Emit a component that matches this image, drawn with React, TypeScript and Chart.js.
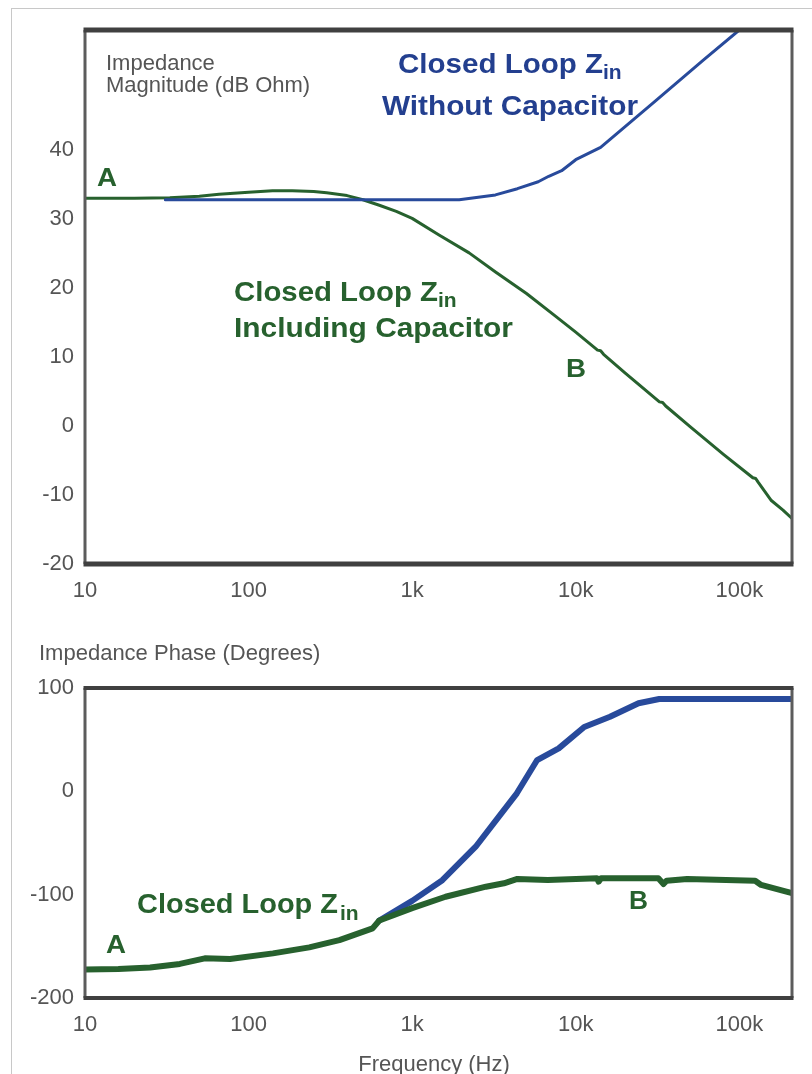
import React, { useEffect, useRef } from 'react';
import { Chart, registerables } from 'chart.js';

Chart.register(...registerables);

// ---- axis ticks ----
const freqTicks = [10, 100, 1000, 10000, 100000];
const freqTickLabels = ['10', '100', '1k', '10k', '100k'];
const magTicks = [-20, -10, 0, 10, 20, 30, 40];
const phaseTicks = [-200, -100, 0, 100];

// ---- impedance magnitude (dB Ohm) ----
const magWithCapFreq = [10, 20, 33, 50, 66, 100, 140, 185, 250, 300, 400, 500, 630, 800, 1000, 1460, 2230, 3250, 5000, 7550, 10000, 13600, 14200, 14800, 20000, 32500, 34000, 35500, 50000, 80000, 121000, 126000, 130000, 157000, 185000, 210000];
const magWithCapDb = [33.0, 33.0, 33.1, 33.3, 33.6, 33.9, 34.1, 34.1, 34.0, 33.8, 33.4, 32.8, 32.0, 31.1, 30.1, 27.7, 25.1, 22.3, 19.2, 15.9, 13.6, 11.0, 10.9, 10.4, 7.7, 3.5, 3.4, 2.9, -0.1, -4.1, -7.5, -7.6, -8.1, -10.8, -12.2, -13.4];

const magNoCapFreq = [31, 100, 1000, 1940, 3230, 4400, 5900, 6840, 8200, 10000, 14200, 30000, 60000, 100000, 210000];
const magNoCapDb = [32.8, 32.8, 32.8, 32.8, 33.5, 34.4, 35.4, 36.2, 37.0, 38.6, 40.4, 46.9, 53.0, 57.4, 63.9];

// ---- impedance phase (degrees) ----
const phaseWithCapFreq = [10, 16, 25, 38, 54, 77, 141, 235, 359, 573, 630, 1000, 1600, 2825, 3640, 4400, 6750, 13500, 13800, 14300, 32000, 34400, 36000, 48000, 125000, 136000, 194000, 210000];
const phaseWithCapDeg = [-172.3, -172.0, -170.5, -167.0, -161.6, -162.3, -156.8, -151.0, -144.0, -132.6, -125.0, -113.0, -102.0, -92.3, -89.0, -84.8, -85.8, -84.2, -87.4, -84.0, -84.2, -89.7, -86.5, -84.8, -86.5, -90.6, -97.1, -98.5];

const phaseNoCapFreq = [630, 1000, 1530, 2445, 3390, 4365, 5810, 7870, 11270, 16200, 24200, 32400, 210000];
const phaseNoCapDeg = [-125.0, -106.0, -86.0, -53.6, -24.5, -1.9, 30.3, 41.6, 62.3, 72.2, 85.2, 89.4, 89.4];

const GREEN = '#27612e';
const BLUE_LINE = '#284a9b';
const BLUE_TEXT = '#233f8f';
const GRAY = '#555555';
const FAMILY = "'Liberation Sans', Arial, sans-serif";

const toPoints = (xs: number[], ys: number[]) => xs.map((x, i) => ({ x, y: ys[i] }));

type Note = {
  text: string;
  x: number;
  y: number;
  font: string;
  color: string;
  align?: CanvasTextAlign;
  w?: number; // fitted run length of the main text
  sub?: { text: string; font: string; dy: number; gap: number };
};

// Draws free-standing text (axis captions, curve labels) onto the canvas.
function notesPlugin(id: string, notes: Note[]) {
  return {
    id,
    afterDraw(chart: any) {
      const ctx: CanvasRenderingContext2D = chart.ctx;
      ctx.save();
      ctx.textBaseline = 'alphabetic';
      for (const n of notes) {
        ctx.font = n.font;
        ctx.fillStyle = n.color;
        ctx.textAlign = n.align || 'left';
        const natural = ctx.measureText(n.text).width;
        const runW = n.w || natural;
        ctx.save();
        ctx.translate(n.x, n.y);
        ctx.scale(runW / natural, 1);
        ctx.fillText(n.text, 0, 0);
        ctx.restore();
        if (n.sub) {
          ctx.font = n.sub.font;
          ctx.textAlign = 'left';
          ctx.fillText(n.sub.text, n.x + runW + n.sub.gap, n.y + n.sub.dy);
        }
      }
      ctx.restore();
    },
  };
}

// Heavy rule on top and bottom, lighter rules on the sides of the plot area.
function framePlugin(id: string, hWidth: number) {
  return {
    id,
    afterDatasetsDraw(chart: any) {
      const { ctx, chartArea: a } = chart;
      ctx.save();
      ctx.strokeStyle = '#5c5c5c';
      ctx.lineWidth = 3;
      ctx.beginPath();
      ctx.moveTo(a.left, a.top);
      ctx.lineTo(a.left, a.bottom);
      ctx.moveTo(a.right, a.top);
      ctx.lineTo(a.right, a.bottom);
      ctx.stroke();
      ctx.strokeStyle = '#404040';
      ctx.lineWidth = hWidth;
      ctx.beginPath();
      ctx.moveTo(a.left - 1.5, a.top);
      ctx.lineTo(a.right + 1.5, a.top);
      ctx.moveTo(a.left - 1.5, a.bottom);
      ctx.lineTo(a.right + 1.5, a.bottom);
      ctx.stroke();
      ctx.restore();
    },
  };
}

const tickFont = { family: FAMILY, size: 22 };

function freqAxis(height: number) {
  return {
    type: 'logarithmic' as const,
    min: 10,
    max: 210000,
    grid: { display: false, drawTicks: false },
    border: { display: false },
    afterBuildTicks: (s: any) => {
      s.ticks = freqTicks.map((v) => ({ value: v }));
    },
    afterFit: (s: any) => {
      s.height = height;
    },
    ticks: {
      autoSkip: false,
      maxRotation: 0,
      padding: 14,
      color: GRAY,
      font: tickFont,
      callback: (v: any) => {
        const i = freqTicks.indexOf(Number(v));
        return i >= 0 ? freqTickLabels[i] : '';
      },
    },
  };
}

function valueAxis(min: number, max: number, ticks: number[]) {
  return {
    type: 'linear' as const,
    min,
    max,
    grid: { display: false, drawTicks: false },
    border: { display: false },
    afterBuildTicks: (s: any) => {
      s.ticks = ticks.map((v) => ({ value: v }));
    },
    afterFit: (s: any) => {
      s.width = 85;
    },
    ticks: { padding: 11, color: GRAY, font: tickFont },
  };
}

const boldFont = (size: number) => `bold ${size}px ${FAMILY}`;
const plainFont = `22px ${FAMILY}`;
const subFont = boldFont(21);

const magNotes: Note[] = [
  { text: 'Impedance', x: 106, y: 70, font: plainFont, color: GRAY },
  { text: 'Magnitude (dB Ohm)', x: 106, y: 92, font: plainFont, color: GRAY },
  { text: 'Closed Loop Z', x: 398, y: 73, w: 205, font: boldFont(27), color: BLUE_TEXT, sub: { text: 'in', font: subFont, dy: 6, gap: 0 } },
  { text: 'Without Capacitor', x: 382, y: 115, w: 256, font: boldFont(27), color: BLUE_TEXT },
  { text: 'Closed Loop Z', x: 234, y: 301, w: 204, font: boldFont(27), color: GREEN, sub: { text: 'in', font: subFont, dy: 6, gap: 0 } },
  { text: 'Including Capacitor', x: 234, y: 337, w: 279, font: boldFont(27), color: GREEN },
  { text: 'A', x: 97, y: 186, w: 20, font: boldFont(26), color: GREEN },
  { text: 'B', x: 566, y: 377, w: 20, font: boldFont(26), color: GREEN },
];

const phaseNotes: Note[] = [
  { text: 'Impedance Phase (Degrees)', x: 39, y: 40, font: plainFont, color: GRAY },
  { text: 'Closed Loop Z', x: 137, y: 293, w: 201, font: boldFont(27), color: GREEN, sub: { text: 'in', font: subFont, dy: 7, gap: 2 } },
  { text: 'A', x: 106, y: 333, w: 20, font: boldFont(26), color: GREEN },
  { text: 'B', x: 629, y: 289, w: 19, font: boldFont(26), color: GREEN },
  { text: 'Frequency (Hz)', x: 434, y: 451, font: plainFont, color: GRAY, align: 'center' },
];

function lineSet(label: string, data: { x: number; y: number }[], color: string, width: number) {
  return {
    label,
    data,
    borderColor: color,
    backgroundColor: color,
    borderWidth: width,
    pointRadius: 0,
    tension: 0,
    fill: false,
    borderJoinStyle: 'round' as const,
    borderCapStyle: 'round' as const,
  };
}

const commonPlugins = {
  legend: { display: false },
  tooltip: { enabled: false },
  title: { display: false },
};

export default function App() {
  const magRef = useRef<HTMLCanvasElement>(null);
  const phaseRef = useRef<HTMLCanvasElement>(null);

  useEffect(() => {
    const magChart = new Chart(magRef.current as HTMLCanvasElement, {
      type: 'line',
      data: {
        datasets: [
          lineSet('Closed Loop Zin Without Capacitor', toPoints(magNoCapFreq, magNoCapDb), BLUE_LINE, 3),
          lineSet('Closed Loop Zin Including Capacitor', toPoints(magWithCapFreq, magWithCapDb), GREEN, 3),
        ],
      },
      options: {
        responsive: false,
        animation: false,
        devicePixelRatio: 1,
        layout: { padding: { top: 30, right: 20, left: 0, bottom: 0 } },
        plugins: commonPlugins,
        scales: {
          x: freqAxis(56),
          y: valueAxis(-20, 57.4, magTicks),
        },
      },
      plugins: [framePlugin('magFrame', 5), notesPlugin('magNotes', magNotes)],
    } as any);

    const phaseChart = new Chart(phaseRef.current as HTMLCanvasElement, {
      type: 'line',
      data: {
        datasets: [
          lineSet('Closed Loop Zin Including Capacitor', toPoints(phaseWithCapFreq, phaseWithCapDeg), GREEN, 6),
          lineSet('Closed Loop Zin Without Capacitor', toPoints(phaseNoCapFreq, phaseNoCapDeg), BLUE_LINE, 6),
        ],
      },
      options: {
        responsive: false,
        animation: false,
        devicePixelRatio: 1,
        layout: { padding: { top: 68, right: 20, left: 0, bottom: 0 } },
        plugins: commonPlugins,
        scales: {
          x: freqAxis(76),
          y: valueAxis(-200, 100, phaseTicks),
        },
      },
      plugins: [framePlugin('phaseFrame', 4), notesPlugin('phaseNotes', phaseNotes)],
    } as any);

    return () => {
      magChart.destroy();
      phaseChart.destroy();
    };
  }, []);

  return (
    <div style={{ position: 'absolute', left: 0, top: 0, width: 812, height: 1074, overflow: 'hidden', background: '#ffffff' }}>
      <div style={{ position: 'absolute', left: 11, top: 8, width: 900, height: 1200, borderTop: '1px solid #c8c8c8', borderLeft: '1px solid #c8c8c8' }} />
      <canvas ref={magRef} width={812} height={620} style={{ position: 'absolute', left: 0, top: 0, width: 812, height: 620 }} />
      <canvas ref={phaseRef} width={812} height={454} style={{ position: 'absolute', left: 0, top: 620, width: 812, height: 454 }} />
    </div>
  );
}
